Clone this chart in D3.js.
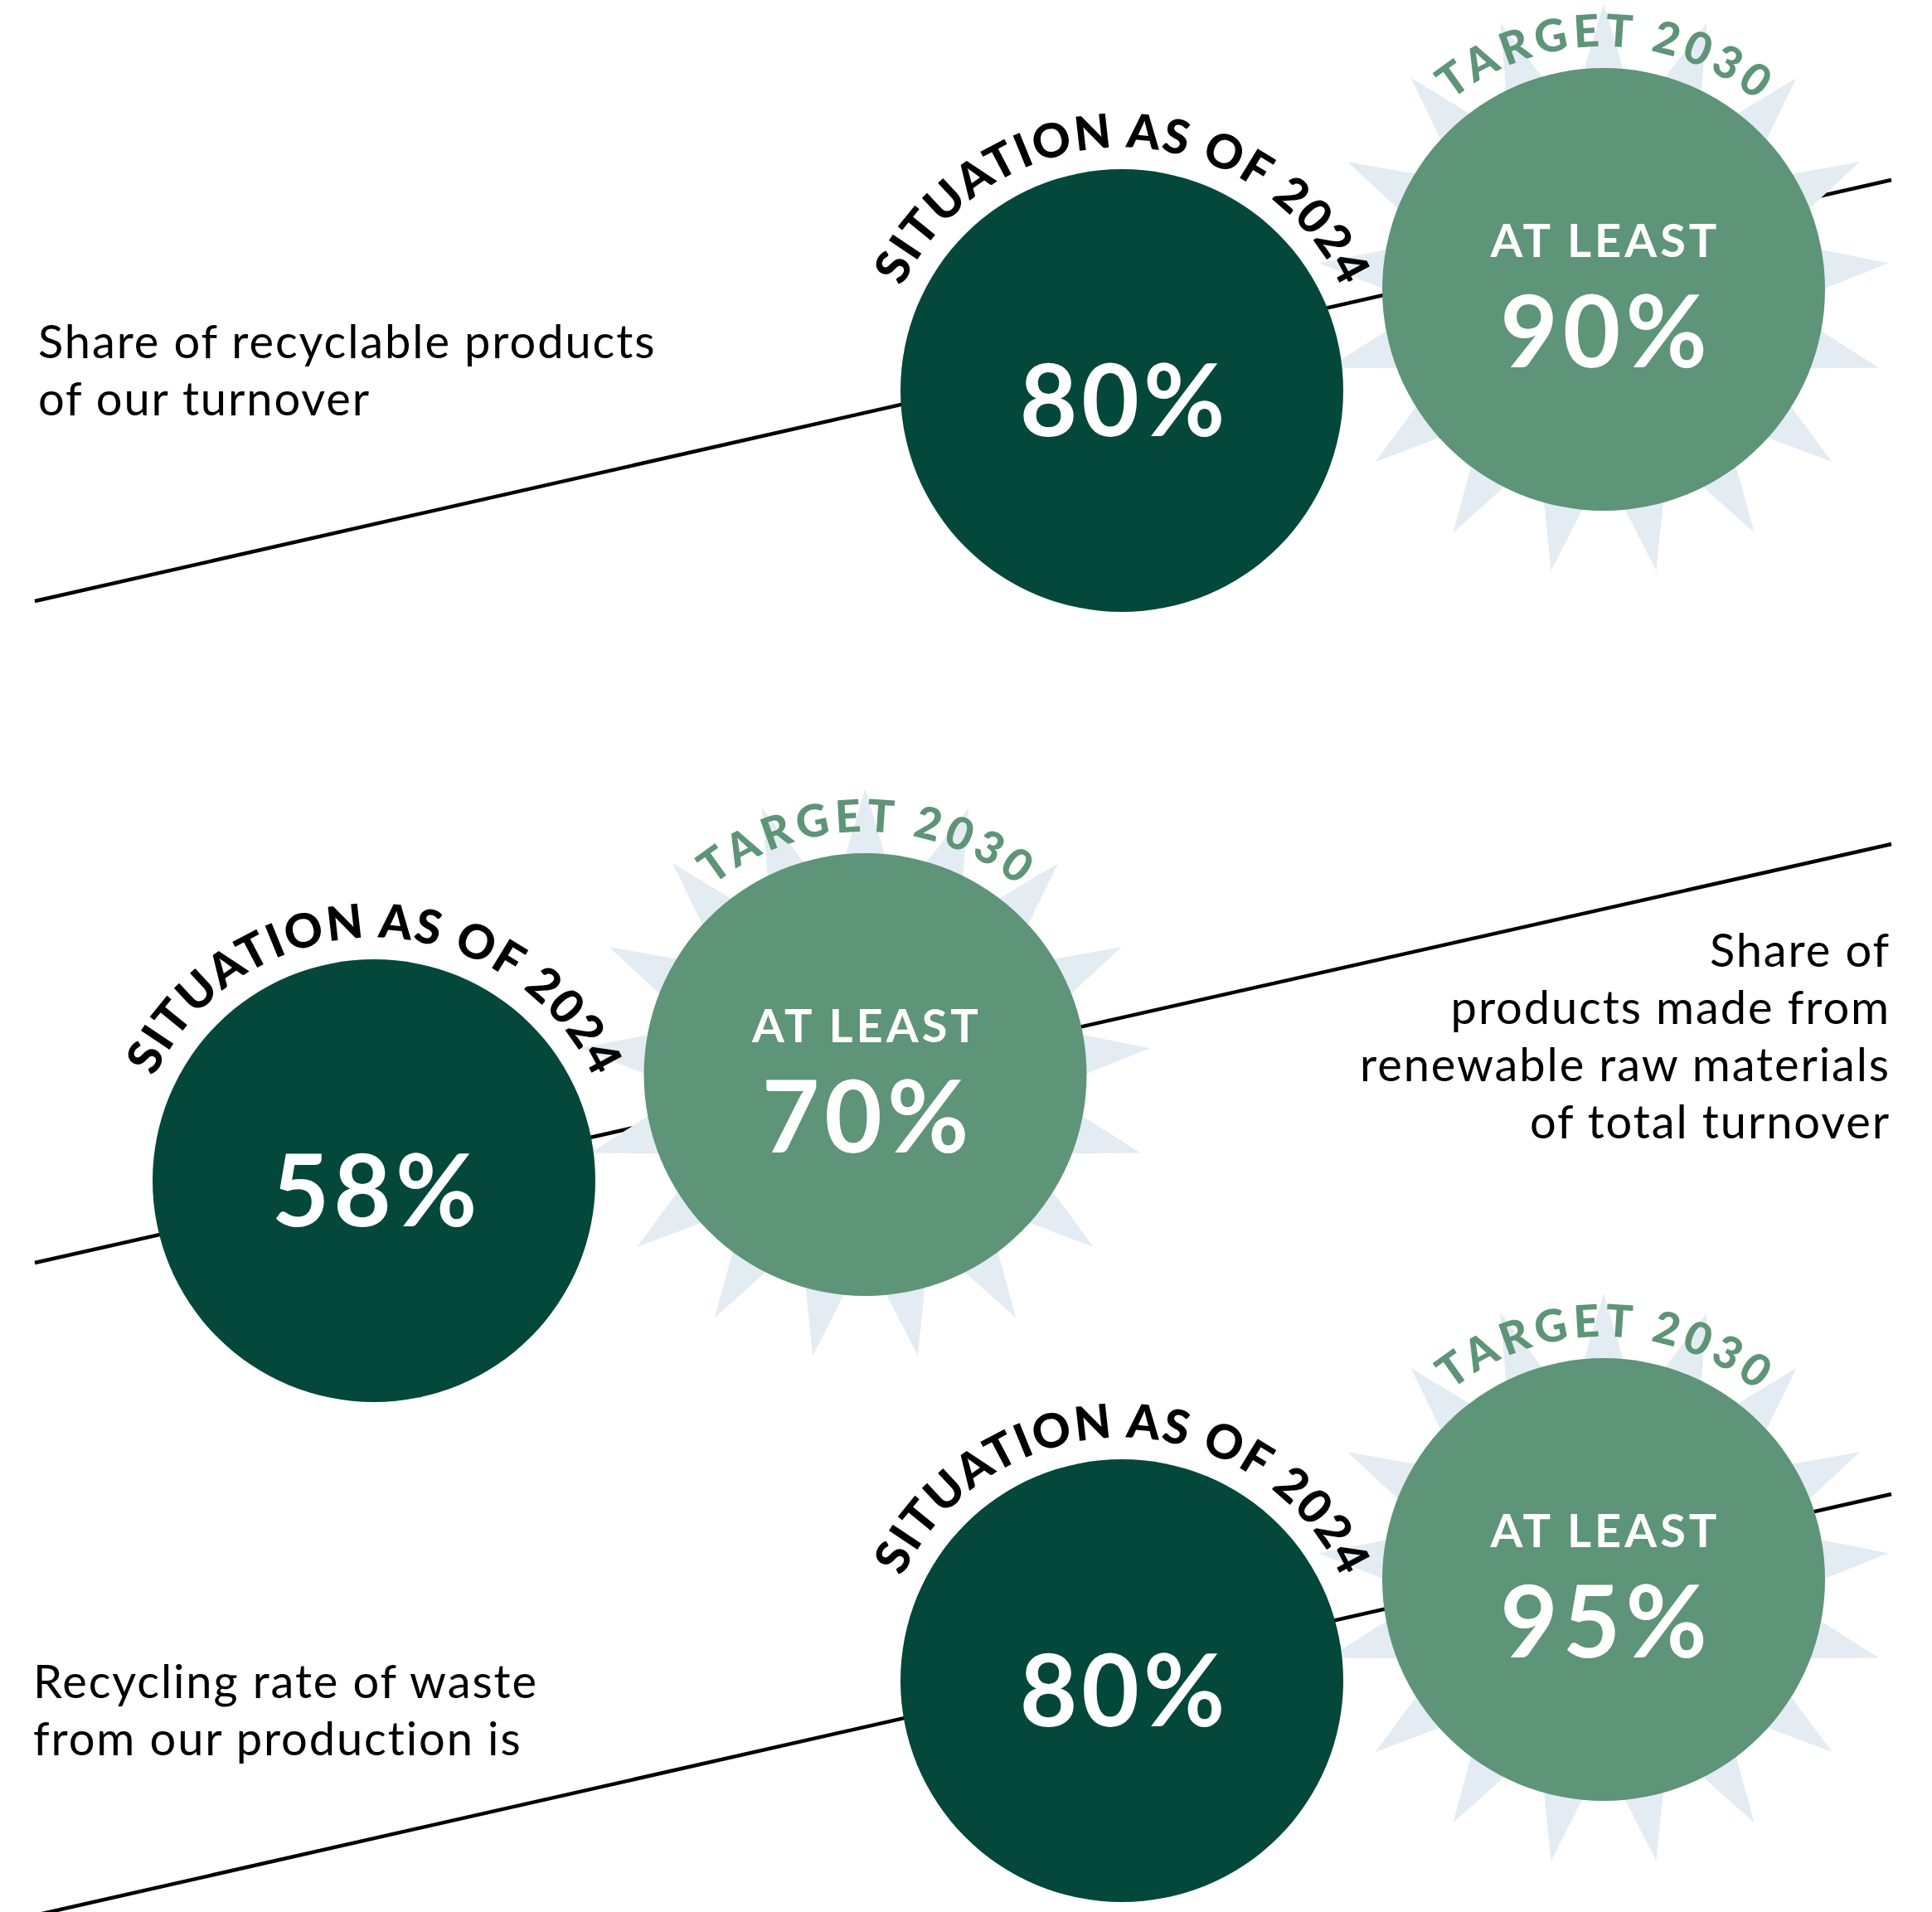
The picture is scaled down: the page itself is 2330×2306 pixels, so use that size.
<!DOCTYPE html>
<html>
<head>
<meta charset="utf-8">
<script src="https://cdn.jsdelivr.net/npm/d3@7"></script>
<style>
  html, body { margin: 0; padding: 0; background: #ffffff; }
  svg { display: block; }
</style>
</head>
<body>
<script>
// ---- Data -------------------------------------------------------------
const descriptions = [
  ["Share of recyclable products", "of our turnover"],
  ["Share of", "products made from", "renewable raw materials", "of total turnover"],
  ["Recycling rate of waste", "from our production is"]
];
const current2024 = [80, 58, 80];
const target2030 = [90, 70, 95];
const currentCaption = "SITUATION AS OF 2024";
const targetCaption = "TARGET 2030";
const targetPrefix = "AT LEAST";

// ---- Layout -----------------------------------------------------------
const W = 2330, H = 2306;
const R = 267;                 // bubble radius
const STAR_OUT = 345, STAR_IN = 215, STAR_POINTS = 17;
const CAPTION_R = 293;         // baseline radius of the curved captions

const colors = {
  dark: "#03483a",
  light: "#5e9477",
  star: "#e3ecf2",
  ink: "#000000",
  white: "#ffffff"
};
const FONT = "Lato, 'Open Sans', sans-serif";

// one entry per metric row
const layout = [
  { dark: [1353, 471],  light: [1934, 349],  line: [[42, 725], [2281, 217]],
    text: { x: 46, y: 432, anchor: "start" } },
  { dark: [451, 1424],  light: [1043.5, 1296], line: [[42, 1523], [2281, 1018]],
    text: { x: 2280, y: 1166, anchor: "end" } },
  { dark: [1353, 2027], light: [1934, 1905], line: [[42, 2310], [2281, 1802]],
    text: { x: 40, y: 2048, anchor: "start" } }
];

const svg = d3.select("body").append("svg")
  .attr("width", W).attr("height", H)
  .attr("viewBox", `0 0 ${W} ${H}`);

// helper: measure a string's natural width in a given font
function measure(str, size, weight) {
  const t = svg.append("text")
    .attr("font-family", FONT).attr("font-size", size).attr("font-weight", weight)
    .text(str);
  const w = t.node().getComputedTextLength();
  t.remove();
  return w;
}

const starPath = d3.lineRadial()
  .angle(d => d[0])
  .radius(d => d[1])
  .curve(d3.curveLinearClosed);
const starPts = d3.range(STAR_POINTS * 2).map(k => [k * Math.PI / STAR_POINTS, k % 2 ? STAR_IN : STAR_OUT]);

const pct = d3.format("d");

// curved caption over a bubble, spread to cover spanLen px of arc
function arcCaption(g, id, cx, cy, str, size, weight, color, spanLen) {
  const rb = CAPTION_R;
  g.append("path")
    .attr("id", id)
    .attr("fill", "none")
    .attr("d", `M ${cx - rb},${cy} A ${rb} ${rb} 0 0 1 ${cx + rb},${cy}`);
  const natural = measure(str, size, weight);
  const n = str.length;
  const ls = (spanLen - natural) / (n - 1);
  const half = Math.PI * rb / 2;
  g.append("text")
    .attr("font-family", FONT)
    .attr("font-size", size)
    .attr("font-weight", weight)
    .attr("fill", color)
    .attr("letter-spacing", ls)
    .append("textPath")
    .attr("href", "#" + id)
    .attr("startOffset", half + ls / 2)
    .attr("text-anchor", "middle")
    .text(str);
}

layout.forEach((L, i) => {
  const g = svg.append("g").attr("class", "metric");

  // guiding line
  g.append("line")
    .attr("x1", L.line[0][0]).attr("y1", L.line[0][1])
    .attr("x2", L.line[1][0]).attr("y2", L.line[1][1])
    .attr("stroke", colors.ink).attr("stroke-width", 4.5);

  // description
  const desc = g.append("text")
    .attr("font-family", FONT)
    .attr("font-size", 56)
    .attr("font-weight", 400)
    .attr("letter-spacing", 1.9)
    .attr("fill", colors.ink)
    .attr("text-anchor", L.text.anchor);
  descriptions[i].forEach((line, j) => {
    desc.append("tspan")
      .attr("x", L.text.x)
      .attr("y", L.text.y + j * 69)
      .text(line);
  });

  // target burst + bubble
  const [lx, ly] = L.light;
  g.append("path")
    .attr("transform", `translate(${lx},${ly})`)
    .attr("d", starPath(starPts))
    .attr("fill", colors.star);
  g.append("circle")
    .attr("cx", lx).attr("cy", ly).attr("r", R)
    .attr("fill", colors.light);
  g.append("text")
    .attr("x", lx + 2).attr("y", ly - 39)
    .attr("text-anchor", "middle")
    .attr("font-family", FONT).attr("font-size", 56).attr("font-weight", 700)
    .attr("letter-spacing", 4)
    .attr("fill", colors.white)
    .text(targetPrefix);
  g.append("text")
    .attr("x", lx + 3).attr("y", ly + 94)
    .attr("text-anchor", "middle")
    .attr("font-family", FONT).attr("font-size", 120).attr("font-weight", 700)
    .attr("letter-spacing", 6)
    .attr("fill", colors.white)
    .text(pct(target2030[i]) + "%");
  arcCaption(g, "target-arc-" + i, lx, ly, targetCaption, 54, 900, colors.light, 398);

  // current bubble
  const [dx, dy] = L.dark;
  g.append("circle")
    .attr("cx", dx).attr("cy", dy).attr("r", R)
    .attr("fill", colors.dark);
  g.append("text")
    .attr("x", dx + 3).attr("y", dy + 55)
    .attr("text-anchor", "middle")
    .attr("font-family", FONT).attr("font-size", 120).attr("font-weight", 700)
    .attr("letter-spacing", 5)
    .attr("fill", colors.white)
    .text(pct(current2024[i]) + "%");
  arcCaption(g, "current-arc-" + i, dx, dy, currentCaption, 57, 900, colors.ink, 662);
});
</script>
</body>
</html>
